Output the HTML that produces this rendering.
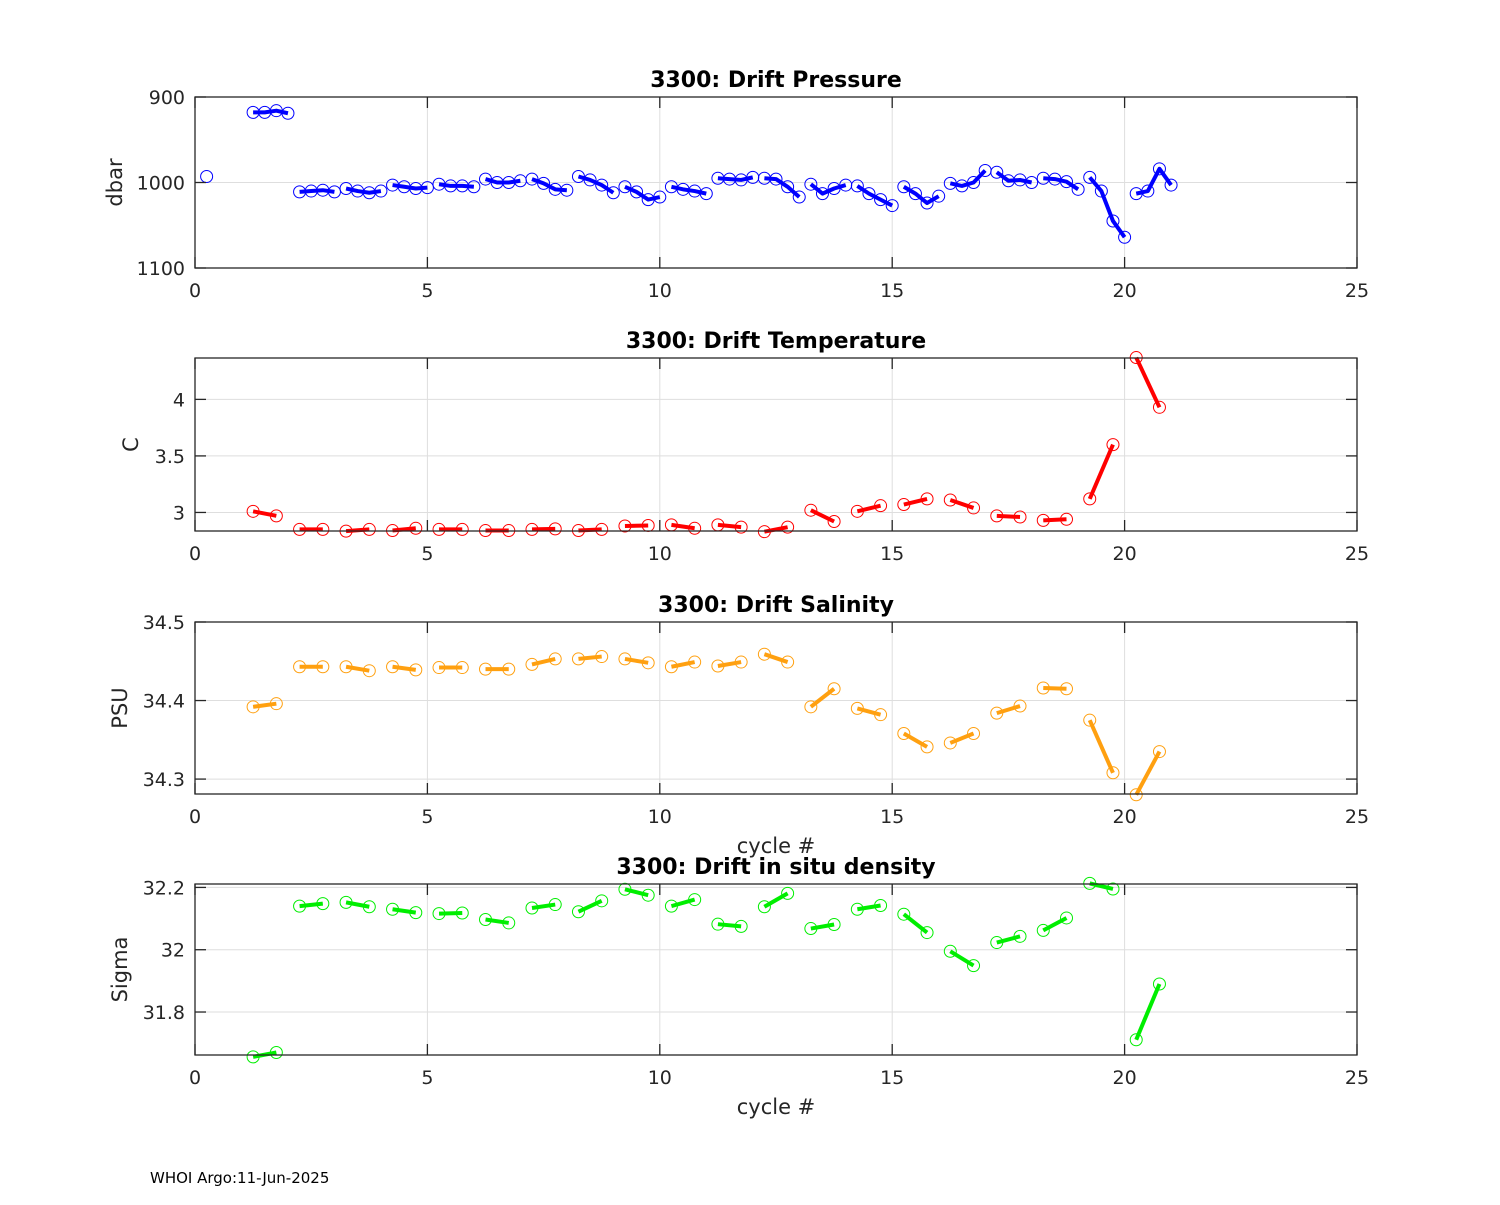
<!DOCTYPE html>
<html><head><meta charset="utf-8"><style>
body{margin:0;background:#fff}
svg text{font-family:"DejaVu Sans","Liberation Sans",sans-serif;fill:#262626}
</style></head><body>
<svg id="chart" width="1500" height="1200" viewBox="0 0 1500 1200" xmlns="http://www.w3.org/2000/svg">
<rect width="1500" height="1200" fill="#fff"/>
<text x="150" y="1183" font-size="15" style="fill:#000">WHOI Argo:11-Jun-2025</text>
</svg>
<script>
// ---- data ----
const xTicks = [0, 5, 10, 15, 20, 25];
const presCycles = [0,1,2,3,4,5,6,7,8,9,10,11,12,13,14,15,16,17,18,19,20];
const presValues = [
 [993],
 [918,918,916,919],
 [1011,1010,1009,1011],
 [1007,1010,1012,1010],
 [1003,1005,1007,1006],
 [1002,1004,1004,1005],
 [996,1000,1000,998],
 [996,1001,1008,1009],
 [993,997,1003,1012],
 [1005,1011,1020,1017],
 [1005,1008,1010,1013],
 [995,996,997,994],
 [995,996,1005,1017],
 [1002,1013,1007,1003],
 [1004,1013,1020,1027],
 [1005,1013,1024,1016],
 [1001,1004,1000,986],
 [988,998,997,1000],
 [995,996,999,1008],
 [994,1010,1045,1064],
 [1013,1010,984,1003]
];
const presTicks = [900, 1000, 1100];
const sampleCycles = [1,2,3,4,5,6,7,8,9,10,11,12,13,14,15,16,17,18,19,20];
const tempValues = [[3.01,2.97],[2.85,2.85],[2.835,2.85],[2.84,2.86],[2.85,2.85],[2.84,2.84],[2.85,2.855],[2.84,2.85],[2.88,2.885],[2.89,2.86],[2.89,2.87],[2.83,2.87],[3.02,2.92],[3.01,3.06],[3.07,3.12],[3.11,3.04],[2.97,2.96],[2.93,2.94],[3.12,3.60],[4.37,3.93]];
const tempTicks = [3, 3.5, 4];
const salValues = [[34.392,34.396],[34.443,34.443],[34.443,34.438],[34.443,34.439],[34.442,34.442],[34.440,34.440],[34.446,34.453],[34.453,34.456],[34.453,34.448],[34.443,34.449],[34.444,34.449],[34.459,34.449],[34.392,34.415],[34.390,34.382],[34.358,34.341],[34.346,34.358],[34.384,34.393],[34.416,34.415],[34.375,34.308],[34.280,34.335]];
const salTicks = [34.3, 34.4, 34.5];
const densValues = [[31.656,31.670],[32.140,32.148],[32.152,32.138],[32.130,32.119],[32.116,32.118],[32.097,32.086],[32.134,32.145],[32.122,32.157],[32.194,32.175],[32.140,32.161],[32.082,32.075],[32.138,32.181],[32.068,32.081],[32.130,32.142],[32.114,32.055],[31.995,31.949],[32.023,32.043],[32.062,32.102],[32.213,32.195],[31.711,31.890]];
const densTicks = [31.8, 32, 32.2];

const NS = "http://www.w3.org/2000/svg";
const svg = document.getElementById('chart');
function mk(tag, attrs, parent){ const e=document.createElementNS(NS,tag); for(const k in attrs) e.setAttribute(k,attrs[k]); (parent||svg).appendChild(e); return e; }
const X0=195, X1=1357;
function xs(v){ return X0 + (v-0)/(25-0)*(X1-X0); }

function panel(cfg){
  const g = mk('g',{});
  
  
  const ys = v => cfg.reverse ? cfg.top + (v-cfg.min)/(cfg.max-cfg.min)*(cfg.bot-cfg.top)
                              : cfg.bot - (v-cfg.min)/(cfg.max-cfg.min)*(cfg.bot-cfg.top);
  // grid
  xTicks.forEach(t=>{ if(t>0&&t<25){ const l=mk('line',{x1:xs(t),x2:xs(t),y1:cfg.top,y2:cfg.bot,stroke:'#dedede','stroke-width':1},g);   }});
  cfg.ticks.forEach(t=>{ const y=ys(t); if(y>cfg.top+1&&y<cfg.bot-1){ const l=mk('line',{x1:X0,x2:X1,y1:y,y2:y,stroke:'#dedede','stroke-width':1},g);   }});
  // series
  cfg.groups.forEach((grp,i)=>{
    const c = cfg.cycles[i];
    const offs = grp.length===4 ? [0.25,0.5,0.75,1.0] : (grp.length===2 ? [0.25,0.75] : [0.25]);
    const pts = grp.map((v,j)=>[xs(c+offs[j]), ys(v)]);
    if(pts.length>1){
      const pl=mk('polyline',{points:pts.map(p=>p.join(',')).join(' '),fill:'none',stroke:cfg.color,'stroke-width':4,'stroke-linejoin':'round'},g);
      
      
    }
    pts.forEach(p=>{
      const ci=mk('circle',{cx:p[0],cy:p[1],r:6,fill:'none',stroke:cfg.color,'stroke-width':1},g);
      
      
    });
  });
  // axes box
  const box=mk('rect',{x:X0,y:cfg.top,width:X1-X0,height:cfg.bot-cfg.top,fill:'none',stroke:'#262626','stroke-width':1.3},g);
  
  
  // x ticks
  xTicks.forEach(t=>{
    const x=xs(t);
    mk('line',{x1:x,x2:x,y1:cfg.bot,y2:cfg.bot-11,stroke:'#262626','stroke-width':1.3},g);
    mk('line',{x1:x,x2:x,y1:cfg.top,y2:cfg.top+11,stroke:'#262626','stroke-width':1.3},g);
    const tx=mk('text',{x:x,y:cfg.bot+29,'font-size':19,'text-anchor':'middle'},g);
    tx.textContent=t;
    
    
  });
  // y ticks
  cfg.ticks.forEach(t=>{
    const y=ys(t);
    mk('line',{x1:X0,x2:X0+11,y1:y,y2:y,stroke:'#262626','stroke-width':1.3},g);
    mk('line',{x1:X1,x2:X1-11,y1:y,y2:y,stroke:'#262626','stroke-width':1.3},g);
    const tx=mk('text',{x:X0-10,y:y+7,'font-size':19,'text-anchor':'end'},g);
    tx.textContent=t;
    
    
  });
  const ti=mk('text',{x:(X0+X1)/2,y:cfg.top-10,'font-size':22,'font-weight':'bold','text-anchor':'middle',style:'fill:#000'},g);
  ti.textContent=cfg.title;
  
  
  const cy=(cfg.top+cfg.bot)/2;
  const yl=mk('text',{x:0,y:0,'font-size':21,'text-anchor':'middle',transform:'translate('+cfg.ylx+','+cy+') rotate(-90)'},g);
  yl.textContent=cfg.ylabel;
  
  
  if(cfg.xlabel){
    const xl=mk('text',{x:(X0+X1)/2,y:cfg.bot+59,'font-size':21,'text-anchor':'middle'},g);
    xl.textContent='cycle #';
    
    
  }
}
panel({name:'pressure',title:'3300: Drift Pressure',ylabel:'dbar',ylx:122,top:97,bot:268,min:900,max:1100,reverse:true,ticks:presTicks,groups:presValues,cycles:presCycles,color:'#0000ff'});
panel({name:'temperature',title:'3300: Drift Temperature',ylabel:'C',ylx:138,top:358,bot:531,min:2.836,max:4.366,ticks:tempTicks,groups:tempValues,cycles:sampleCycles,color:'#ff0000'});
panel({name:'salinity',title:'3300: Drift Salinity',ylabel:'PSU',ylx:127,top:622,bot:794,min:34.281,max:34.5,ticks:salTicks,groups:salValues,cycles:sampleCycles,color:'#ffa010',xlabel:true});
panel({name:'density',title:'3300: Drift in situ density',ylabel:'Sigma',ylx:127,top:884,bot:1055,min:31.662,max:32.211,ticks:densTicks,groups:densValues,cycles:sampleCycles,color:'#00ee00',xlabel:true});
</script>
</body></html>
